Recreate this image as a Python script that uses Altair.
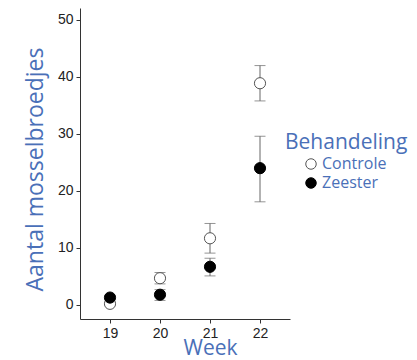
import altair as alt
import pandas as pd

weeks = ["19", "20", "21", "22"]
groups = ["Controle", "Zeester"]
controle_mean = [0.2, 4.7, 11.7, 38.9]
controle_lo = [0.0, 3.7, 9.1, 35.8]
controle_hi = [0.5, 5.7, 14.3, 42.0]
zeester_mean = [1.3, 1.8, 6.7, 24.0]
zeester_lo = [0.9, 0.8, 5.1, 18.1]
zeester_hi = [1.7, 2.7, 8.2, 29.6]

rows = []
for i, w in enumerate(weeks):
    rows.append({"Week": w, "Behandeling": "Controle", "mean": controle_mean[i], "lo": controle_lo[i], "hi": controle_hi[i], "ord": 0})
for i, w in enumerate(weeks):
    rows.append({"Week": w, "Behandeling": "Zeester", "mean": zeester_mean[i], "lo": zeester_lo[i], "hi": zeester_hi[i], "ord": 1})
df = pd.DataFrame(rows)

BLUE = "#4a70b8"
TFONT = "Open Sans"
LFONT = "Liberation Sans"
ECOL = "#666"

xenc = alt.X("Week:O", scale=alt.Scale(type="point", padding=0.6),
             axis=alt.Axis(title="Week", titleFont=TFONT, titleFontSize=21, titleFontWeight="normal",
                           titleColor=BLUE, titleX=130, titleY=35, titleBaseline="alphabetic",
                           titleAnchor="start", titleAlign="center",
                           labelFont=LFONT, labelFontSize=14, labelColor="#222", labelAngle=0,
                           labelPadding=3, domainColor="#333", tickColor="#333", tickSize=4))
ysc = alt.Scale(domain=[-2.46, 52.1], nice=False, zero=False)
yaxis = alt.Axis(title="Aantal mosselbroedjes", titleFont=TFONT, titleFontSize=23, titleFontWeight="normal",
                 titleColor=BLUE, titleX=-38, titleY=161, titleAngle=-90, titleAlign="center",
                 titleBaseline="alphabetic",
                 values=[0, 10, 20, 30, 40, 50], labelFont=LFONT, labelFontSize=14, labelColor="#222",
                 labelPadding=3, domainColor="#333", tickColor="#333", tickSize=4, grid=False)

base = alt.Chart(df)

rules = base.mark_rule(color=ECOL, strokeWidth=1).encode(
    x=xenc, y=alt.Y("lo:Q", scale=ysc, axis=yaxis), y2="hi:Q")
caps_lo = base.mark_tick(color=ECOL, size=11, thickness=1).encode(
    x=xenc, y=alt.Y("lo:Q", scale=ysc, axis=yaxis))
caps_hi = base.mark_tick(color=ECOL, size=11, thickness=1).encode(
    x=xenc, y=alt.Y("hi:Q", scale=ysc, axis=yaxis))

points = base.mark_point(shape="circle", size=125, strokeWidth=1, opacity=1, filled=False).encode(
    x=xenc,
    y=alt.Y("mean:Q", scale=ysc, axis=yaxis),
    fill=alt.Fill("Behandeling:N", scale=alt.Scale(domain=groups, range=["white", "black"]),
                  legend=alt.Legend(title="Behandeling")),
    stroke=alt.Stroke("Behandeling:N", scale=alt.Scale(domain=groups, range=["#555", "black"]),
                      legend=alt.Legend(title="Behandeling")),
    order=alt.Order("ord:Q"),
)

chart = alt.layer(rules, caps_lo, caps_hi, points).properties(
    width=210, height=311,
    autosize=alt.AutoSizeParams(type="none"),
    padding={"left": 72, "top": 0, "right": 119, "bottom": 50},
).configure_view(stroke=None).configure_legend(
    orient="none", legendX=205, legendY=124,
    titleFont=TFONT, titleFontSize=21, titleFontWeight="normal", titleColor=BLUE, titlePadding=3,
    labelFont=TFONT, labelFontSize=16, labelColor=BLUE, labelOffset=3,
    symbolSize=110, symbolStrokeWidth=1, symbolOffset=18, rowPadding=3,
)

chart.save("out.html", embed_options={"renderer": "svg", "actions": False})
